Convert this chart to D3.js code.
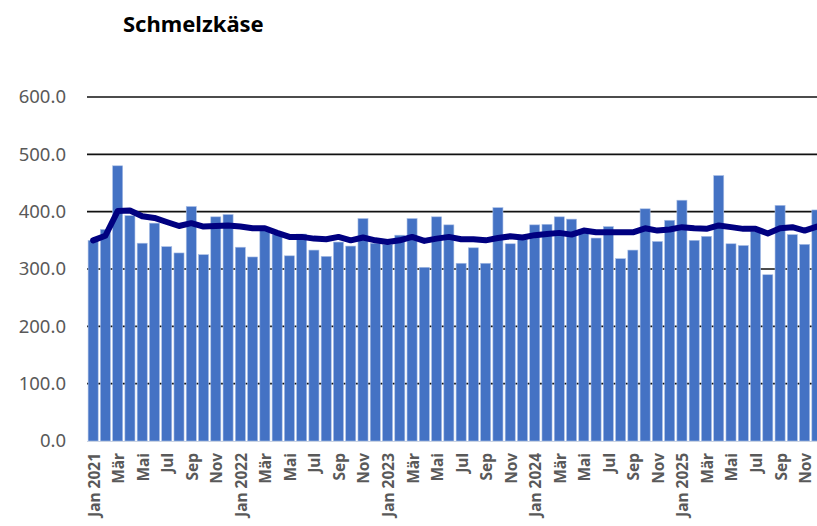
<!DOCTYPE html>
<html>
<head>
<meta charset="utf-8">
<script src="https://cdn.jsdelivr.net/npm/d3@7"></script>
<style>
  body { margin: 0; background: #fff; }
  svg { display: block; }
</style>
</head>
<body>
<div id="chart"></div>
<script>
// monthly values Jan 2021 - Dec 2025
const months = ["Jan", "Feb", "Mär", "Apr", "Mai", "Jun", "Jul", "Aug", "Sep", "Okt", "Nov", "Dez"]
const years = [2021, 2022, 2023, 2024, 2025]

const monthly = [
  350, 369, 480, 393, 345, 380, 339, 328, 409, 325, 391, 395,
  338, 321, 369, 360, 323, 361, 333, 322, 347, 340, 388, 345,
  343, 359, 388, 303, 391, 377, 310, 337, 310, 407, 344, 352,
  377, 378, 391, 387, 369, 354, 374, 318, 333, 405, 348, 385,
  420, 350, 357, 463, 344, 341, 366, 290, 411, 360, 343, 403
]

// trend line (moving average)
const trend = [
  350, 358, 401, 402, 392, 389, 382, 375, 380, 374, 375, 376,
  374, 371, 371, 363, 356, 356, 353, 352, 356, 350, 355, 350,
  347, 350, 356, 349, 353, 356, 352, 352, 350, 354, 357, 355,
  359, 361, 363, 360, 367, 364, 364, 364, 364, 371, 367, 369,
  373, 371, 370, 376, 373, 370, 370, 362, 371, 373, 367, 374
]

const yTicks = [0, 100, 200, 300, 400, 500, 600]

const width = 817, height = 526
const margin = {left: 87, right: -6, top: 97, bottom: 85}

const labels = []
years.forEach(y => months.forEach((m, i) => labels.push(i == 0 ? `Jan ${y}` : m)))
const data = labels.map((d, i) => ({key: i, label: d, value: monthly[i], trend: trend[i]}))

const svg = d3.select("#chart").append("svg")
  .attr("width", width)
  .attr("height", height)

const x = d3.scaleBand()
  .domain(data.map(d => d.key))
  .range([margin.left, width - margin.right])
  .paddingInner(0.18)
  .paddingOuter(0.09)

const y = d3.scaleLinear()
  .domain([0, 600])
  .range([height - margin.bottom, margin.top])

// grid
svg.append("g")
  .selectAll("line")
  .data(yTicks.filter(d => d > 0))
  .join("line")
    .attr("x1", margin.left)
    .attr("x2", width)
    .attr("y1", d => y(d))
    .attr("y2", d => y(d))
    .attr("stroke", "#111")
    .attr("stroke-width", 1.6)

// y labels
svg.append("g")
  .selectAll("text")
  .data(yTicks)
  .join("text")
    .attr("x", 66)
    .attr("y", d => y(d))
    .attr("dy", "0.35em")
    .attr("text-anchor", "end")
    .attr("fill", "#595959")
    .style("font-family", "'Noto Sans', sans-serif")
    .style("font-size", "18.5px")
    .text(d => d.toFixed(1))

// bars
svg.append("g")
  .selectAll("rect")
  .data(data)
  .join("rect")
    .attr("x", d => x(d.key))
    .attr("width", x.bandwidth())
    .attr("y", d => y(d.value))
    .attr("height", d => y(0) - y(d.value))
    .attr("fill", "#4472C4")
    .attr("stroke", "#a9bfe6")
    .attr("stroke-width", 0.6)

// baseline
svg.append("line")
  .attr("x1", margin.left)
  .attr("x2", width)
  .attr("y1", y(0) + 0.5)
  .attr("y2", y(0) + 0.5)
  .attr("stroke", "#c9d3e3")
  .attr("stroke-width", 1)

// trend line
const line = d3.line()
  .x(d => x(d.key) + x.bandwidth() / 2)
  .y(d => y(d.trend))

svg.append("path")
  .datum(data)
  .attr("d", line)
  .attr("fill", "none")
  .attr("stroke", "#000080")
  .attr("stroke-width", 6)
  .attr("stroke-linejoin", "round")
  .attr("stroke-linecap", "round")

// x labels every second month
svg.append("g")
  .selectAll("text")
  .data(data.filter(d => d.key % 2 == 0))
  .join("text")
    .attr("transform", d => `translate(${x(d.key) + x.bandwidth() / 2 + 1},453) rotate(-90)`)
    .attr("dy", "0.35em")
    .attr("text-anchor", "end")
    .attr("fill", "#595959")
    .style("font-family", "'Noto Sans', sans-serif")
    .style("font-weight", "bold")
    .style("font-size", "15.5px")
    .text(d => d.label)

// title
svg.append("text")
  .attr("x", 123)
  .attr("y", 32)
  .attr("fill", "#000")
  .style("font-family", "'Noto Sans', sans-serif")
  .style("font-weight", "bold")
  .style("font-size", "22px")
  .text("Schmelzkäse")
</script>
</body>
</html>
